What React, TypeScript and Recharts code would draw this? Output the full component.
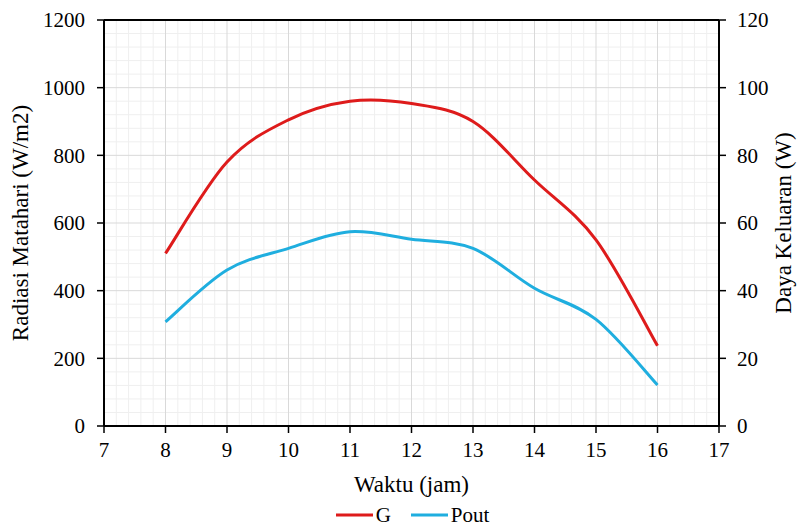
import {
  LineChart,
  Line,
  XAxis,
  YAxis,
  CartesianGrid,
  Legend,
  ReferenceLine,
} from 'recharts';

// time of day (jam)
const hours = [8, 9, 10, 11, 12, 13, 14, 15, 16];
// solar irradiance G (W/m2), left axis
const gValues = [510, 780, 905, 960, 953, 900, 727, 550, 237];
// output power Pout (W), right axis
const poutValues = [30.8, 46.1, 52.5, 57.4, 55.2, 52.5, 40.7, 31.5, 12.1];

const xTicks = [7, 8, 9, 10, 11, 12, 13, 14, 15, 16, 17];
const leftTicks = [0, 200, 400, 600, 800, 1000, 1200];
const rightTicks = [0, 20, 40, 60, 80, 100, 120];

const FONT = '"Liberation Serif", "Times New Roman", serif';
const RED = '#DE1B1B';
const BLUE = '#1FAEDF';

// minor grid every 1/5 of a major step
function minorSteps(ticks: number[]) {
  const out: number[] = [];
  for (let i = 0; i < ticks.length - 1; i++) {
    const step = (ticks[i + 1] - ticks[i]) / 5;
    for (let k = 1; k < 5; k++) out.push(ticks[i] + step * k);
  }
  return out;
}
const minorX = minorSteps(xTicks);
const minorY = minorSteps(leftTicks);

const data = hours.map((h, i) => ({ hour: h, G: gValues[i], Pout: poutValues[i] }));

// Excel-like smoothed line (Catmull-Rom through the points)
function smoothCurve(context: any) {
  let pts: [number, number][] = [];
  return {
    areaStart() {},
    areaEnd() {},
    lineStart() {
      pts = [];
    },
    point(x: number, y: number) {
      pts.push([+x, +y]);
    },
    lineEnd() {
      if (!pts.length) return;
      context.moveTo(pts[0][0], pts[0][1]);
      for (let i = 0; i < pts.length - 1; i++) {
        const p0 = pts[Math.max(i - 1, 0)];
        const p1 = pts[i];
        const p2 = pts[i + 1];
        const p3 = pts[Math.min(i + 2, pts.length - 1)];
        context.bezierCurveTo(
          p1[0] + (p2[0] - p0[0]) / 6,
          p1[1] + (p2[1] - p0[1]) / 6,
          p2[0] - (p3[0] - p1[0]) / 6,
          p2[1] - (p3[1] - p1[1]) / 6,
          p2[0],
          p2[1]
        );
      }
    },
  };
}

const applyScale = (scale: any, v: number) =>
  typeof scale === 'function' ? scale(v) : scale?.map ? scale.map(v) : 0;

// serif tick labels drawn directly
function makeTick(dy: string) {
  return (props: any) => (
    <text
      x={props.x}
      y={props.y}
      dy={dy}
      textAnchor={props.textAnchor}
      fontFamily={FONT}
      fontSize={21}
      fill="#000"
    >
      {props.payload?.value}
    </text>
  );
}

function ChartLegend({ payload }: any) {
  return (
    <div
      style={{
        display: 'flex',
        justifyContent: 'center',
        alignItems: 'center',
        height: 22,
        fontFamily: FONT,
        fontSize: 21,
        lineHeight: '22px',
        color: '#000',
        paddingLeft: 42,
      }}
    >
      {(payload ?? []).map((p: any) => (
        <div key={p.value} style={{ display: 'flex', alignItems: 'center', marginRight: 20 }}>
          <svg width={37} height={4} style={{ marginRight: 3 }}>
            <line x1={0} y1={2} x2={37} y2={2} stroke={p.color} strokeWidth={3} />
          </svg>
          <span>{p.value}</span>
        </div>
      ))}
    </div>
  );
}

function axisTitle(text: string, kind: 'x' | 'left' | 'right') {
  return (p: any) => {
    const vb = p.viewBox;
    if (kind === 'x') {
      return (
        <text
          x={vb.x + vb.width / 2}
          y={vb.y + 66}
          textAnchor="middle"
          fontFamily={FONT}
          fontSize={23}
          fill="#000"
        >
          {text}
        </text>
      );
    }
    const cx = kind === 'left' ? vb.x + 28 : vb.x + 72;
    const cy = vb.y + vb.height / 2;
    return (
      <text
        x={cx}
        y={cy}
        transform={`rotate(-90 ${cx} ${cy})`}
        textAnchor="middle"
        fontFamily={FONT}
        fontSize={23}
        fill="#000"
      >
        {text}
      </text>
    );
  };
}

export default function App() {
  return (
    <div style={{ position: 'absolute', left: 0, top: 0, background: '#fff', fontFamily: FONT }}>
      <LineChart
        width={803}
        height={526}
        data={data}
        margin={{ top: 20, right: 0, bottom: 0, left: 0 }}
      >
        <CartesianGrid
          yAxisId="left"
          stroke="#efefef"
          strokeWidth={1}
          verticalCoordinatesGenerator={(p: any) => minorX.map((v) => applyScale(p.xAxis?.scale, v))}
          horizontalCoordinatesGenerator={(p: any) => minorY.map((v) => applyScale(p.yAxis?.scale, v))}
        />
        <CartesianGrid yAxisId="left" stroke="#d9d9d9" strokeWidth={1} />
        <XAxis
          dataKey="hour"
          type="number"
          domain={[7, 17]}
          ticks={xTicks}
          interval={0}
          height={78}
          tickSize={7}
          tickMargin={8}
          tick={makeTick('0.75em')}
          axisLine={{ stroke: '#000', strokeWidth: 2 }}
          tickLine={{ stroke: '#000', strokeWidth: 1.5 }}
          label={axisTitle('Waktu (jam)', 'x')}
        />
        <YAxis
          yAxisId="left"
          orientation="left"
          domain={[0, 1200]}
          ticks={leftTicks}
          interval={0}
          width={104}
          tickSize={7}
          tickMargin={12}
          tick={makeTick('0.35em')}
          axisLine={{ stroke: '#000', strokeWidth: 2 }}
          tickLine={{ stroke: '#000', strokeWidth: 1.5 }}
          label={axisTitle('Radiasi Matahari (W/m2)', 'left')}
        />
        <YAxis
          yAxisId="right"
          orientation="right"
          domain={[0, 120]}
          ticks={rightTicks}
          interval={0}
          width={84}
          tickSize={7}
          tickMargin={11}
          tick={makeTick('0.35em')}
          axisLine={{ stroke: '#000', strokeWidth: 2 }}
          tickLine={{ stroke: '#000', strokeWidth: 1.5 }}
          label={axisTitle('Daya Keluaran (W)', 'right')}
        />
        <ReferenceLine yAxisId="left" y={1200} stroke="#000" strokeWidth={2} />
        <Legend verticalAlign="bottom" content={<ChartLegend />} />
        <Line
          yAxisId="left"
          dataKey="G"
          name="G"
          type={smoothCurve as any}
          stroke={RED}
          strokeWidth={3}
          dot={false}
          activeDot={false}
          isAnimationActive={false}
        />
        <Line
          yAxisId="right"
          dataKey="Pout"
          name="Pout"
          type={smoothCurve as any}
          stroke={BLUE}
          strokeWidth={3}
          dot={false}
          activeDot={false}
          isAnimationActive={false}
        />
      </LineChart>
    </div>
  );
}
